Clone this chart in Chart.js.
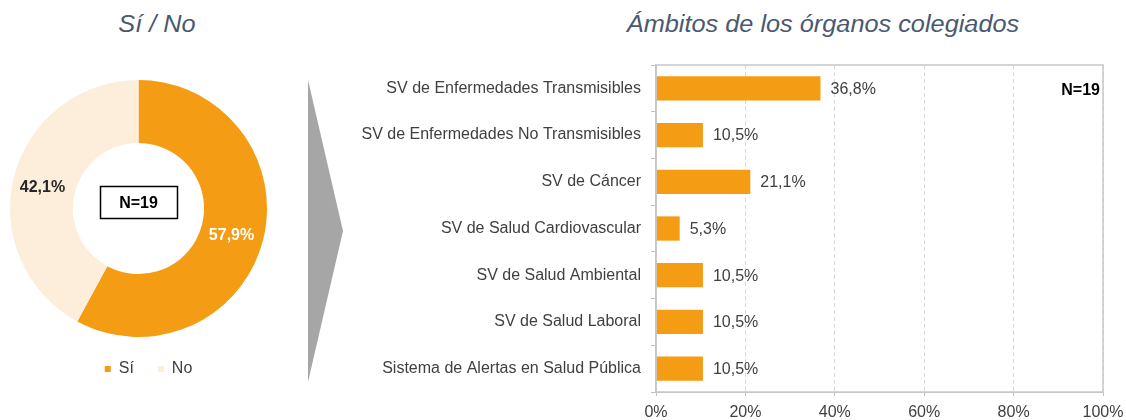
<!DOCTYPE html>
<html>
<head>
<meta charset="utf-8">
<script src="https://cdn.jsdelivr.net/npm/chart.js@4/dist/chart.umd.min.js"></script>
<style>
  body { margin: 0; background: #fff; font-family: "Liberation Sans", Arial, sans-serif; }
  #wrap { position: relative; width: 1126px; height: 420px; overflow: hidden; }
  .title { position: absolute; top: 11px; font-style: italic; font-size: 23px; color: #4a5870; white-space: nowrap; transform: translateX(-50%) scaleX(1.1); }
  #arrow { position: absolute; left: 308px; top: 80px; width: 35px; height: 302px;
           background: #a6a6a6;
           clip-path: polygon(0 0, 100% 50%, 0 100%); }
  canvas { position: absolute; top: 0; }
</style>
</head>
<body>
<div id="wrap">
  <div class="title" style="left:157px">Sí / No</div>
  <div class="title" style="left:823px">Ámbitos de los órganos colegiados</div>
  <div id="arrow"></div>
  <canvas id="pie" width="277" height="420" style="left:0"></canvas>
  <canvas id="bars" width="796" height="420" style="left:330px"></canvas>
</div>
<script>
// datos
const pieLabels = ['Sí', 'No'];
const pieValues = [57.9, 42.1];
const pieColors = ['#F39C14', '#FDEEDC'];

const ambitos = [
  'SV de Enfermedades Transmisibles',
  'SV de Enfermedades No Transmisibles',
  'SV de Cáncer',
  'SV de Salud Cardiovascular',
  'SV de Salud Ambiental',
  'SV de Salud Laboral',
  'Sistema de Alertas en Salud Pública'
];
const ambitoValues = [36.8, 10.5, 21.1, 5.3, 10.5, 10.5, 10.5];
const xTicks = [0, 20, 40, 60, 80, 100];
const totalN = 'N=19';

const FONT = '"Liberation Sans", Arial, sans-serif';
const fmt = v => v.toFixed(1).replace('.', ',') + '%';

// etiquetas del donut + recuadro N
const pieLabelsPlugin = {
  id: 'pieLabels',
  afterLayout(chart) {
    // la leyenda va un poco desplazada a la derecha
    chart.legend.left += 10;
    chart.legend.right += 10;
  },
  afterDatasetsDraw(chart) {
    const ctx = chart.ctx;
    const meta = chart.getDatasetMeta(0);
    ctx.save();
    ctx.font = 'bold 16px ' + FONT;
    ctx.textAlign = 'center';
    ctx.textBaseline = 'middle';
    meta.data.forEach((arc, i) => {
      const p = arc.tooltipPosition();
      ctx.fillStyle = i === 0 ? '#ffffff' : '#262626';
      ctx.fillText(fmt(pieValues[i]), p.x + (i === 0 ? -1 : -2), p.y + 3);
    });
    const c = meta.data[0];
    ctx.lineWidth = 1.5;
    ctx.strokeStyle = '#000';
    ctx.strokeRect(c.x - 38, c.y - 22, 77, 32);
    ctx.fillStyle = '#000';
    ctx.fillText(totalN, c.x, c.y - 5);
    ctx.restore();
  }
};

new Chart(document.getElementById('pie'), {
  type: 'doughnut',
  data: {
    labels: pieLabels,
    datasets: [{ data: pieValues, backgroundColor: pieColors, borderWidth: 0 }]
  },
  options: {
    responsive: false,
    animation: false,
    cutout: '51%',
    layout: { padding: { top: 80, bottom: 33 } },
    plugins: {
      tooltip: { enabled: false },
      legend: {
        position: 'bottom',
        labels: {
          usePointStyle: true, pointStyle: 'rect', boxWidth: 6, boxHeight: 6,
          padding: 24, color: '#404040', font: { family: FONT, size: 16 }
        }
      }
    }
  },
  plugins: [pieLabelsPlugin]
});

// etiquetas de valores, marco y N
const barExtras = {
  id: 'barExtras',
  afterDatasetsDraw(chart) {
    const ctx = chart.ctx;
    const a = chart.chartArea;
    ctx.save();
    ctx.strokeStyle = '#c8c8c8';
    ctx.lineWidth = 1.5;
    ctx.setLineDash([]);
    ctx.strokeRect(a.left, a.top, a.right - a.left, a.bottom - a.top);
    ctx.font = '16px ' + FONT;
    ctx.fillStyle = '#404040';
    ctx.textBaseline = 'middle';
    chart.getDatasetMeta(0).data.forEach((bar, i) => {
      ctx.fillText(fmt(ambitoValues[i]), bar.x + 10, bar.y + 1);
    });
    ctx.font = 'bold 16px ' + FONT;
    ctx.fillStyle = '#000';
    ctx.textAlign = 'right';
    ctx.fillText(totalN, a.right - 3, a.top + 26);
    ctx.restore();
  }
};

new Chart(document.getElementById('bars'), {
  type: 'bar',
  data: {
    labels: ambitos,
    datasets: [{ data: ambitoValues, backgroundColor: '#F39C14', categoryPercentage: 1, barPercentage: 0.52 }]
  },
  options: {
    responsive: false,
    animation: false,
    indexAxis: 'y',
    layout: { padding: { top: 65, right: 23, left: 0, bottom: 0 } },
    scales: {
      x: {
        min: 0, max: 100,
        afterBuildTicks: s => { s.ticks = xTicks.map(v => ({ value: v })); },
        afterFit: s => { s.height = 28; s.paddingRight = 0; },
        ticks: { callback: v => v + '%', color: '#404040', font: { family: FONT, size: 16 }, padding: 7, maxRotation: 0 },
        grid: { color: '#d9d9d9', tickColor: '#c0c0c0', tickLength: 4, lineWidth: 1 },
        border: { dash: [4, 3], color: '#c0c0c0' }
      },
      y: {
        afterFit: s => { s.width = 326; },
        ticks: { color: '#404040', font: { family: FONT, size: 16 }, padding: 10 },
        grid: { drawOnChartArea: false, tickLength: 5, tickColor: '#c0c0c0', offset: true },
        border: { color: '#c0c0c0', width: 1.5 }
      }
    },
    plugins: { legend: { display: false }, tooltip: { enabled: false } }
  },
  plugins: [barExtras]
});
</script>
</body>
</html>
